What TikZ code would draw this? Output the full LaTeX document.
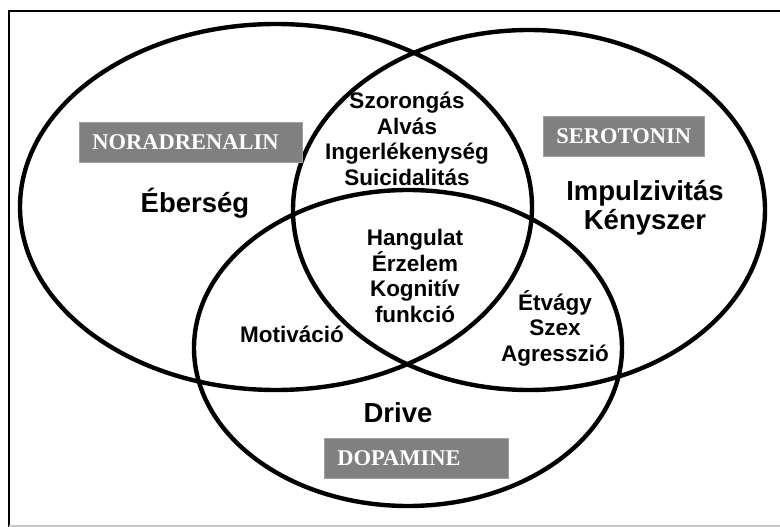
\documentclass[tikz,border=0pt]{standalone}
\usepackage{fontspec}
\setmainfont{Liberation Serif}
\setsansfont{Liberation Sans}
\usetikzlibrary{shapes.geometric}
\definecolor{boxgray}{HTML}{808080}
\definecolor{boxedge}{HTML}{A0A0A0}
\definecolor{framegray}{HTML}{C8C8C8}
\tikzset{
  ring/.style={ellipse, draw=black, line width=4.4pt, inner sep=0pt},
  tag/.style={anchor=north west, fill=boxgray, draw=boxedge, line width=0.8pt,
    minimum height=40pt, inner xsep=13pt, inner ysep=0pt, align=left,
    text=white, font={\fontsize{22.5}{24}\selectfont\bfseries}},
  big/.style={align=center, font={\sffamily\bfseries\fontsize{27.5}{29}\selectfont}},
  small/.style={align=center, font={\sffamily\bfseries\fontsize{22.5}{25.5}\selectfont}},
}
\begin{document}
\begin{tikzpicture}[x=1pt, y=-1pt]
  \useasboundingbox (0,0) rectangle (780,527);
  % frame
  \draw[line width=2pt] (9,527) -- (9,11) -- (780,11);
  \draw[framegray, line width=1.2pt] (9,526) -- (780,526);
  % the three circles of the diagram
  \node[ring, minimum width=512pt, minimum height=366pt] (nor) at (276,207) {};
  \node[ring, minimum width=472pt, minimum height=360pt] (ser) at (529,210) {};
  \node[ring, minimum width=428pt, minimum height=316pt] (dop) at (408,348) {};
  % transmitter tags
  \node[tag, text width=197pt] (tagN) at (79,122) {NORADRENALIN};
  \node[tag, text width=135pt] (tagS) at (543,116) {SEROTONIN};
  \node[tag, text width=158pt] (tagD) at (324,438) {DOPAMINE};
  % functions
  \node[big, anchor=base] (eber) at (195,212) {Éberség};
  \node[big] (impu) at (645,208) {Impulzivitás\\Kényszer};
  \node[big, anchor=base] (drive) at (398,422) {Drive};
  \node[small] (szor) at (407,139) {Szorongás\\Alvás\\Ingerlékenység\\Suicidalitás};
  \node[small] (hang) at (415,276) {Hangulat\\Érzelem\\Kognitív\\funkció};
  \node[small] (etv) at (555,328) {Étvágy\\Szex\\Agresszió};
  \node[small, anchor=base] (motiv) at (292,342) {Motiváció};
\end{tikzpicture}
\end{document}
